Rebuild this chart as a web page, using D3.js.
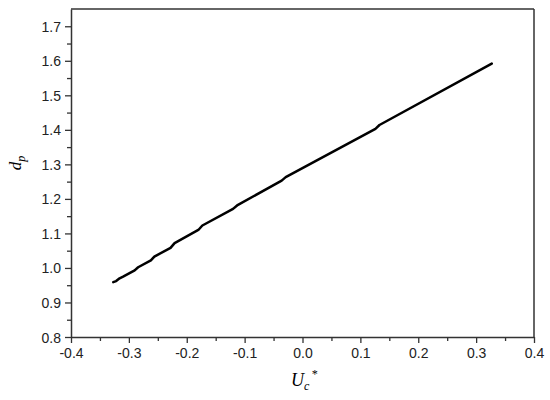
<!DOCTYPE html>
<html>
<head>
<meta charset="utf-8">
<script src="https://cdn.jsdelivr.net/npm/d3@7"></script>
<style>
body{margin:0;background:#fff;}
text{font-family:"Liberation Sans",Arial,sans-serif;}
</style>
</head>
<body>
<svg width="550" height="400"></svg>
<script>
// values
const uc = [-0.327,-0.322,-0.316,-0.310,-0.290,-0.284,-0.262,-0.256,-0.228,-0.221,-0.180,-0.173,-0.120,-0.113,-0.036,-0.029,0.126,0.133,0.327];
const dp = [0.959,0.962,0.970,0.975,0.993,1.002,1.022,1.033,1.058,1.072,1.110,1.123,1.171,1.181,1.253,1.263,1.403,1.414,1.592];
const xTicks = [-0.4,-0.3,-0.2,-0.1,0.0,0.1,0.2,0.3,0.4];
const yTicks = [0.8,0.9,1.0,1.1,1.2,1.3,1.4,1.5,1.6,1.7];

const svg = d3.select('svg');
const pl = 71, pr = 534, pt = 9, pb = 337;
const x = d3.scaleLinear().domain([-0.4,0.4]).range([pl,pr]);
const y = d3.scaleLinear().domain([0.8,1.75]).range([pb,pt]);

// minor ticks
const xMinor = d3.range(-0.35,0.4,0.1);
const yMinor = d3.range(0.85,1.75,0.1);
const axisCol = '#333';

svg.append('g').attr('transform','translate(0,'+pb+')')
   .call(d3.axisBottom(x).tickValues(xMinor).tickSize(4).tickFormat(''))
   .call(g=>g.select('.domain').remove());
svg.append('g').attr('transform','translate('+pl+',0)')
   .call(d3.axisLeft(y).tickValues(yMinor).tickSize(4).tickFormat(''))
   .call(g=>g.select('.domain').remove());

const xa = svg.append('g').attr('transform','translate(0,'+pb+')')
   .call(d3.axisBottom(x).tickValues(xTicks).tickSize(6).tickSizeOuter(0).tickPadding(5).tickFormat(d3.format('.1f')));
const ya = svg.append('g').attr('transform','translate('+pl+',0)')
   .call(d3.axisLeft(y).tickValues(yTicks).tickSize(6).tickSizeOuter(0).tickPadding(4).tickFormat(d3.format('.1f')));

svg.selectAll('.tick line').attr('stroke',axisCol).attr('stroke-width',1.3);
svg.selectAll('.tick text').attr('font-size',14).attr('fill','#222');
xa.selectAll('.tick text').text(d=>d3.format('.1f')(d).replace('−','-'));
ya.selectAll('.tick text').attr('dy','0.36em');
xa.select('.domain').attr('stroke',axisCol).attr('stroke-width',1.5);
ya.select('.domain').attr('stroke',axisCol).attr('stroke-width',1.5);

// top and right frame
svg.append('line').attr('x1',pl).attr('x2',pr).attr('y1',pt).attr('y2',pt)
   .attr('stroke',axisCol).attr('stroke-width',1.5);
svg.append('line').attr('x1',pr).attr('x2',pr).attr('y1',pt).attr('y2',pb)
   .attr('stroke',axisCol).attr('stroke-width',1.5);

const pts = uc.map((u,i)=>[u,dp[i]]);
svg.append('path').datum(pts)
   .attr('fill','none').attr('stroke','#000').attr('stroke-width',2.5)
   .attr('stroke-linejoin','round').attr('stroke-linecap','round')
   .attr('d',d3.line().x(d=>x(d[0])).y(d=>y(d[1])));

// axis titles
const serif = '"Liberation Serif","Times New Roman",serif';
const xl = svg.append('text').attr('x',291).attr('y',386)
   .style('font-family',serif).style('font-style','italic').attr('font-size',18);
xl.append('tspan').text('U');
xl.append('tspan').attr('font-size',12).attr('dy',4).text('c');
xl.append('tspan').attr('font-size',12).attr('dy',-12).attr('dx',2).text('*');

const yl = svg.append('text').attr('transform','translate(21,163) rotate(-90)')
   .attr('text-anchor','middle')
   .style('font-family',serif).style('font-style','italic').attr('font-size',17);
yl.append('tspan').text('d');
yl.append('tspan').attr('font-size',12).attr('dy',4).text('p');
</script>
</body>
</html>
